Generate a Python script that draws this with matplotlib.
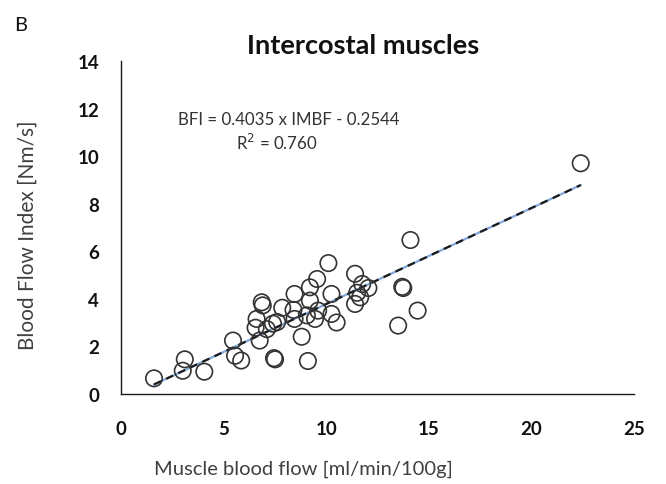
import matplotlib
matplotlib.use('Agg')

import numpy as np
import matplotlib.pyplot as plt

# muscle blood flow (ml/min/100g) vs blood flow index (Nm/s)
imbf = [1.6, 3.1, 3.0, 4.05, 5.45, 5.55, 5.85, 6.55, 6.6, 6.75,
        6.85, 6.9, 7.1, 7.4, 7.45, 7.5, 7.6, 7.85, 8.4, 8.45,
        8.45, 8.8, 9.05, 9.1, 9.2, 9.2, 9.45, 9.55, 9.6, 10.1,
        10.25, 10.25, 10.5, 11.4, 11.4, 11.5, 11.65, 11.75, 12.05, 13.5,
        13.7, 13.75, 14.1, 14.45, 22.4]
bfi = [0.65, 1.45, 0.97, 0.93, 2.24, 1.6, 1.4, 2.78, 3.15, 2.24,
       3.85, 3.72, 2.72, 2.95, 1.5, 1.45, 3.02, 3.62, 3.53, 4.2,
       3.15, 2.4, 3.3, 1.38, 4.48, 3.92, 3.15, 4.83, 3.5, 5.5,
       4.2, 3.36, 3.0, 5.05, 3.78, 4.25, 4.06, 4.62, 4.45, 2.87,
       4.5, 4.45, 6.47, 3.5, 9.7]

slope = 0.4035
intercept = -0.2544
r2 = 0.760

xticks = [0, 5, 10, 15, 20, 25]
yticks = [0, 2, 4, 6, 8, 10, 12, 14]

plt.rcParams['font.family'] = ['Lato', 'DejaVu Sans']

fig = plt.figure(figsize=(6.66, 4.85), dpi=100)
ax = fig.add_axes([0.182, 0.186, 0.770, 0.686])

# fitted trend line, blue dotted under black dashes
xfit = np.array([min(imbf), max(imbf)])
yfit = slope * xfit + intercept
ax.plot(xfit, yfit, color='#7fa7d9', linewidth=1.6, zorder=2)
ax.plot(xfit, yfit, color='#1a1a1a', linewidth=1.6, linestyle=(0, (3.5, 2.5)), zorder=3)

ax.scatter(imbf, bfi, s=140, facecolors='none', edgecolors='#333333',
           linewidths=1.2, zorder=4)

ax.set_xlim(0, 25)
ax.set_ylim(0, 14)
ax.set_xticks(xticks)
ax.set_yticks(yticks)
ax.tick_params(length=0, labelsize=13.5, colors='#111111')
ax.tick_params(axis='x', pad=19)
ax.tick_params(axis='y', pad=16)
for lab in ax.get_xticklabels() + ax.get_yticklabels():
    lab.set_fontweight('bold')

for side in ['top', 'right']:
    ax.spines[side].set_visible(False)
for side in ['left', 'bottom']:
    ax.spines[side].set_color('#1a1a1a')
    ax.spines[side].set_linewidth(1.0)

ax.text(2.75, 11.55, 'BFI = 0.4035 x IMBF - 0.2544', fontsize=12.2,
        color='#333333', va='center')
ax.text(5.6, 10.6, 'R$^2$ = %.3f' % r2, fontsize=12.2,
        color='#333333', va='center')

fig.text(0.545, 0.905, 'Intercostal muscles', fontsize=19.5, fontweight='bold',
         ha='center', va='center', color='#111111')
fig.text(0.455, 0.032, 'Muscle blood flow [ml/min/100g]', fontsize=14.5,
         ha='center', va='center', color='#404040')
fig.text(0.042, 0.515, 'Blood Flow Index [Nm/s]', fontsize=15, rotation=90,
         ha='center', va='center', color='#404040')
fig.text(0.021, 0.948, 'B', fontsize=14.5, ha='left', va='center', color='#111111')

plt.savefig('out.png', dpi=100)
plt.close(fig)
